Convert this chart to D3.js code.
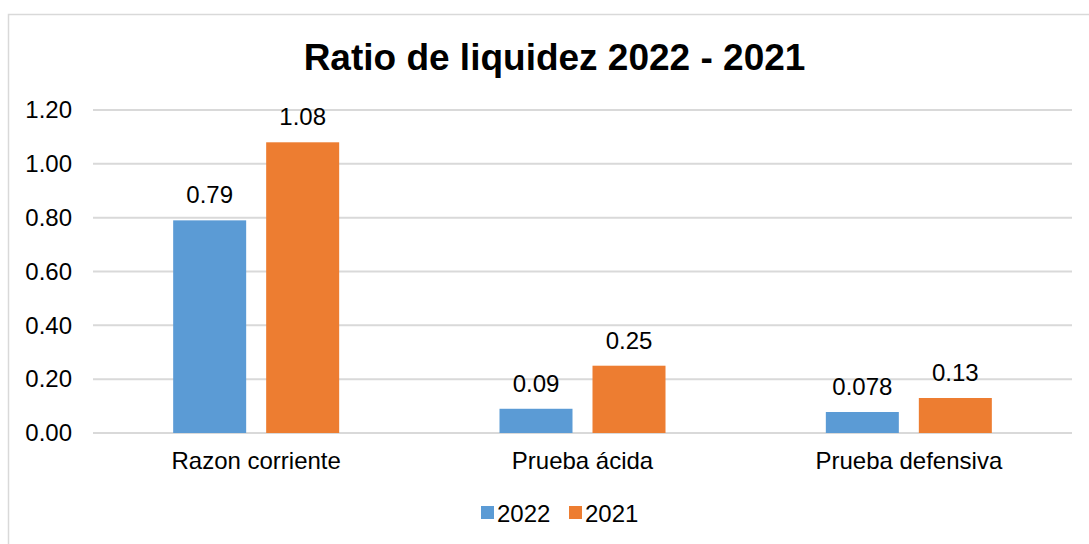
<!DOCTYPE html>
<html><head><meta charset="utf-8">
<script src="https://cdn.jsdelivr.net/npm/d3@7"></script>
<style>body{margin:0;background:#fff}svg{display:block;font-family:Arial,"Liberation Sans",sans-serif}</style>
</head><body>
<svg id="c" width="1089" height="544"></svg>
<script>
const categories = ["Razon corriente", "Prueba ácida", "Prueba defensiva"];
const seriesNames = ["2022", "2021"];
const values2022 = [0.79, 0.09, 0.078];
const values2021 = [1.08, 0.25, 0.13];
const labels2022 = ["0.79", "0.09", "0.078"];
const labels2021 = ["1.08", "0.25", "0.13"];
const yTicks = [0, 0.2, 0.4, 0.6, 0.8, 1.0, 1.2];
const colors = ["#5B9BD5", "#ED7D31"];

const svg = d3.select("#c");
svg.append("rect").attr("x", 8.5).attr("y", 14.5).attr("width", 1200).attr("height", 600)
  .attr("fill", "#fff").attr("stroke", "#D9D9D9").attr("stroke-width", 1.5);

const m = {l: 93, r: 1072, t: 110, b: 433};
const x = d3.scaleBand().domain(categories).range([m.l, m.r]);
const y = d3.scaleLinear().domain([0, 1.2]).range([m.b, m.t]);
const barW = 73, gap = 20;
const clusterW = barW * 2 + gap;
const xs = d3.scaleBand().domain(seriesNames).range([0, clusterW]).paddingInner(gap / (barW + gap));

svg.append("text").attr("x", 554.5).attr("y", 70).attr("text-anchor", "middle")
  .attr("font-size", 37).attr("font-weight", "bold").attr("fill", "#000").text("Ratio de liquidez 2022 - 2021");

const grid = svg.append("g");
grid.selectAll("line").data(yTicks).join("line")
  .attr("x1", m.l).attr("x2", m.r).attr("y1", d => y(d)).attr("y2", d => y(d))
  .attr("stroke", "#D9D9D9").attr("stroke-width", 2);

const yAxis = svg.append("g").attr("transform", `translate(${m.l},0)`)
  .call(d3.axisLeft(y).tickValues(yTicks).tickFormat(d3.format(".2f")).tickSize(0).tickPadding(21));
yAxis.select(".domain").remove();
yAxis.selectAll("text").attr("font-size", 24).attr("fill", "#000").attr("font-family", "Arial, 'Liberation Sans', sans-serif");

const xAxis = svg.append("g").attr("transform", `translate(0,${m.b})`)
  .call(d3.axisBottom(x).tickSize(0).tickPadding(19));
xAxis.select(".domain").remove();
xAxis.selectAll("text").attr("font-size", 24).attr("fill", "#000").attr("font-family", "Arial, 'Liberation Sans', sans-serif");

const series = [values2022, values2021];
const labels = [labels2022, labels2021];
series.forEach((vals, si) => {
  const g = svg.append("g");
  const off = d => x(d) + x.bandwidth() / 2 - clusterW / 2 + xs(seriesNames[si]);
  g.selectAll("rect").data(categories).join("rect")
    .attr("x", d => off(d)).attr("width", xs.bandwidth())
    .attr("y", (d, i) => y(vals[i])).attr("height", (d, i) => y(0) - y(vals[i]))
    .attr("fill", colors[si]);
  g.selectAll("text").data(categories).join("text")
    .attr("x", d => off(d) + xs.bandwidth() / 2).attr("y", (d, i) => y(vals[i]) - 17)
    .attr("text-anchor", "middle").attr("font-size", 24).attr("fill", "#000")
    .text((d, i) => labels[si][i]);
});

const leg = svg.append("g");
const legX = [481, 569];
seriesNames.forEach((s, i) => {
  leg.append("rect").attr("x", legX[i]).attr("y", 506).attr("width", 13).attr("height", 13).attr("fill", colors[i]);
  leg.append("text").attr("x", legX[i] + 16).attr("y", 522).attr("font-size", 24).attr("fill", "#000").text(s);
});
</script>
</body></html>
